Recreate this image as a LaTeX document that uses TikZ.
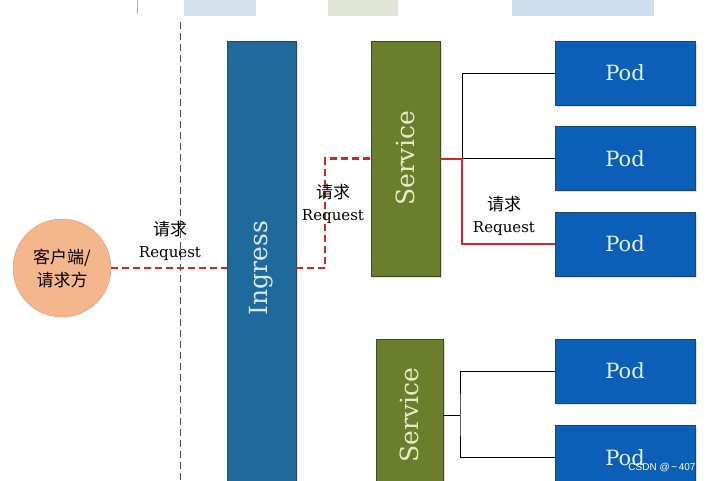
\documentclass[tikz,border=0pt]{standalone}
\usepackage{fontspec}
\setmainfont{DejaVu Serif}
\newfontfamily\cjk{Noto Sans CJK SC}
\newfontfamily\markfont{Liberation Sans}
\usetikzlibrary{positioning,shadows}
\definecolor{ingressblue}{HTML}{1F6A9C}
\definecolor{ingressedge}{HTML}{2B4A5C}
\definecolor{ingresstext}{HTML}{D6E8F2}
\definecolor{svcgreen}{HTML}{6A7E2C}
\definecolor{svcedge}{HTML}{3E4C1E}
\definecolor{svctext}{HTML}{E6ECC6}
\definecolor{podblue}{HTML}{0B5FB6}
\definecolor{podedge}{HTML}{1D4470}
\definecolor{podtext}{HTML}{E2F0FF}
\definecolor{clientorange}{HTML}{F4B68C}
\definecolor{clientedge}{HTML}{E29A66}
\definecolor{reqred}{HTML}{DD2222}
\definecolor{fadeblue}{HTML}{D2E1EA}
\definecolor{fadegreen}{HTML}{DFE4D5}
\definecolor{fadesky}{HTML}{CDDFEE}

\begin{document}
\begin{tikzpicture}[x=1pt, y=-1pt,
  ingressbox/.style={draw=ingressedge, fill=ingressblue, minimum width=69pt,
                     minimum height=454pt, text=ingresstext,
                     font=\fontsize{25}{28}\selectfont,
                     drop shadow={shadow xshift=2pt, shadow yshift=-2pt, opacity=0.25}},
  svcbox/.style={draw=svcedge, fill=svcgreen, minimum width=69pt, text=svctext,
                 font=\fontsize{25}{28}\selectfont,
                 drop shadow={shadow xshift=2pt, shadow yshift=-2pt, opacity=0.25}},
  podbox/.style={draw=podedge, fill=podblue, minimum width=140pt, minimum height=64pt,
                 text=podtext, font=\fontsize{21}{24}\selectfont,
                 drop shadow={shadow xshift=2pt, shadow yshift=-2pt, opacity=0.25}},
  client/.style={circle, draw=clientedge, fill=clientorange, minimum size=98pt,
                 inner sep=0pt, align=center, font=\cjk\fontsize{17}{23}\selectfont},
  lbl/.style={align=center, font=\fontsize{15}{22}\selectfont},
  req/.style={draw=reqred, dash pattern=on 7pt off 4pt, line width=2.2pt},
  reqline/.style={draw=reqred, line width=2pt},
  wire/.style={draw=black, line width=0.8pt},
]
  \useasboundingbox (0,0) rectangle (710,480);

  % cut-off strip at the top
  \fill[fadeblue] (184,0) rectangle (256,16);
  \fill[fadegreen] (328,0) rectangle (398,16);
  \fill[fadesky] (512,0) rectangle (654,16);
  \draw[gray!60, line width=0.8pt] (137,0) -- (137,14);
  \draw[black!70, line width=0.8pt, dash pattern=on 7pt off 4pt] (180,22) -- (180,480);

  \node[client] (client) at (62,268) {客户端/\\请求方};
  \node[ingressbox] (ingress) at (261.5,268) {\rotatebox{90}{Ingress}};
  \node[svcbox, minimum height=235pt] (svc1) at (405.5,158.5) {\rotatebox{90}{Service}};
  \node[svcbox, minimum width=67pt, minimum height=152pt] (svc2) at (409.5,415) {\rotatebox{90}{Service}};

  \node[podbox] (pod1) at (625,73) {Pod};
  \node[podbox, below=21pt of pod1] (pod2) {Pod};
  \node[podbox, below=21pt of pod2] (pod3) {Pod};
  \node[podbox] (pod4) at (625,371) {Pod};
  \node[podbox, below=22pt of pod4] (pod5) {Pod};

  \coordinate (hub1) at (462,158.5);
  \coordinate (hub2) at (460,415);

  \draw[wire] (svc1.east) -- (hub1) |- (pod1.west);
  \draw[wire] (hub1) -- (hub1 -| pod2.west);
  \draw[reqline] (svc1.east) -- (hub1) |- (pod3.west);
  \draw[wire] (svc2.east) -- (hub2);
  \draw[wire] (pod4.west) -| (hub2) |- (pod5.west);

  \draw[req] (client) -- (ingress);
  \draw[req] (ingress.east) -- ++(29,0) |- (svc1.west);

  \node[lbl] (req1) at (170,241) {{\cjk\fontsize{17}{22}\selectfont 请求}\\Request};
  \node[lbl] (req2) at (333,204) {{\cjk\fontsize{17}{22}\selectfont 请求}\\Request};
  \node[lbl] (req3) at (504,216) {{\cjk\fontsize{17}{22}\selectfont 请求}\\Request};

  \node[text=white, font=\markfont\fontsize{10}{12}\selectfont] (mark) at (662,468)
    {CSDN @\,\textasciitilde\,407};
\end{tikzpicture}
\end{document}
